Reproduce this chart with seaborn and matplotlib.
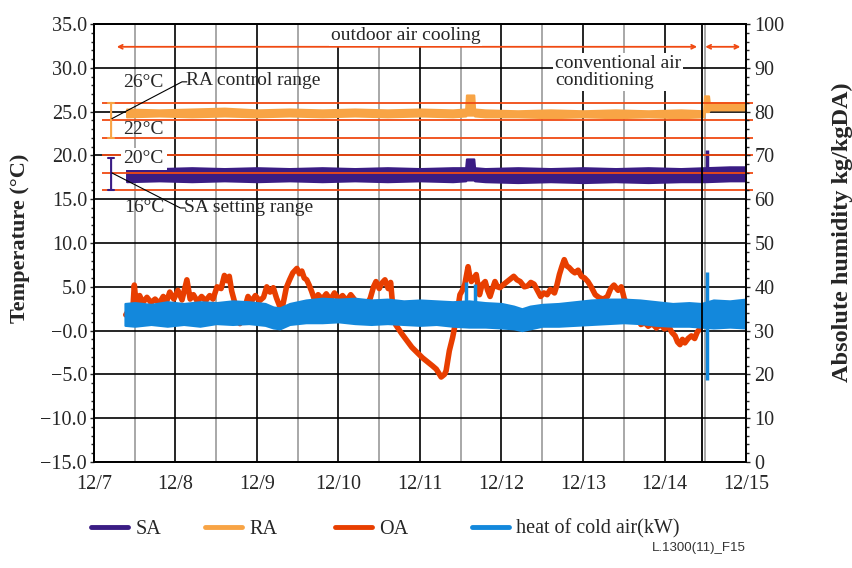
import matplotlib
matplotlib.use("Agg")
import matplotlib.pyplot as plt
import seaborn as sns
import pandas as pd
from matplotlib.lines import Line2D
from matplotlib.ticker import MultipleLocator

# ---------------- data (days since 12/7 00:00) ----------------
X_TICK_LABELS = ["12/7", "12/8", "12/9", "12/10", "12/11", "12/12", "12/13", "12/14", "12/15"]
Y_LEFT_TICKS = [-15, -10, -5, 0, 5, 10, 15, 20, 25, 30, 35]
Y_LEFT_LABELS = ["\u221215.0", "\u221210.0", "\u22125.0", "\u22120.0", "5.0", "10.0", "15.0",
                 "20.0", "25.0", "30.0", "35.0"]
Y_RIGHT_TICKS = [0, 10, 20, 30, 40, 50, 60, 70, 80, 90, 100]

SA_T = [0.40, 0.80, 1.20, 1.60, 2.00, 2.40, 2.80, 3.20, 3.60, 4.00,
        4.40, 4.56, 4.57, 4.66, 4.67, 4.80, 5.20, 5.60, 6.00, 6.40,
        6.80, 7.20, 7.50, 7.80, 8.00]
SA_LO = [17.0, 17.1, 17.0, 17.1, 17.0, 17.1, 17.0, 17.1, 17.0, 17.1,
         17.0, 17.1, 17.2, 17.2, 17.1, 17.0, 16.9, 17.0, 16.9, 17.0,
         16.9, 17.0, 17.0, 17.1, 17.1]
SA_HI = [18.6, 18.5, 18.6, 18.5, 18.6, 18.5, 18.6, 18.5, 18.6, 18.5,
         18.6, 18.6, 19.6, 19.6, 18.6, 18.5, 18.6, 18.5, 18.6, 18.5,
         18.6, 18.5, 18.6, 18.7, 18.7]

RA_T = [0.40, 0.80, 1.20, 1.60, 2.00, 2.40, 2.80, 3.20, 3.60, 4.00,
        4.40, 4.56, 4.57, 4.66, 4.67, 4.80, 5.20, 5.60, 6.00, 6.40,
        6.80, 7.20, 7.48, 7.49, 7.54, 7.55, 7.80, 8.00]
RA_LO = [24.4, 24.5, 24.4, 24.5, 24.4, 24.5, 24.4, 24.5, 24.4, 24.5,
         24.4, 24.5, 24.6, 24.6, 24.5, 24.4, 24.4, 24.3, 24.4, 24.3,
         24.4, 24.3, 24.4, 25.0, 25.0, 25.2, 25.2, 25.2]
RA_HI = [25.3, 25.2, 25.3, 25.4, 25.2, 25.3, 25.2, 25.3, 25.2, 25.3,
         25.2, 25.3, 26.9, 26.9, 25.3, 25.2, 25.1, 25.2, 25.1, 25.2,
         25.1, 25.2, 25.1, 26.8, 26.8, 26.0, 26.0, 26.0]

OA_T = [0.39, 0.44, 0.47, 0.495, 0.52, 0.56, 0.60, 0.65, 0.70, 0.75,
        0.80, 0.85, 0.89, 0.93, 0.98, 1.03, 1.08, 1.14, 1.18, 1.22,
        1.27, 1.32, 1.37, 1.42, 1.46, 1.51, 1.56, 1.60, 1.63, 1.66,
        1.69, 1.73, 1.76, 1.79, 1.82, 1.85, 1.89, 1.93, 1.98, 2.03,
        2.08, 2.12, 2.16, 2.20, 2.24, 2.27, 2.30, 2.33, 2.36, 2.40,
        2.44, 2.49, 2.52, 2.55, 2.58, 2.61, 2.64, 2.67, 2.71, 2.75,
        2.80, 2.85, 2.90, 2.95, 3.00, 3.05, 3.10, 3.15, 3.20, 3.26,
        3.30, 3.35, 3.39, 3.43, 3.46, 3.50, 3.53, 3.57, 3.61, 3.64,
        3.66, 3.70, 3.78, 3.90, 4.03, 4.15, 4.20, 4.26, 4.30, 4.32,
        4.36, 4.40, 4.44, 4.49, 4.52, 4.55, 4.59, 4.61, 4.63, 4.66,
        4.69, 4.73, 4.76, 4.80, 4.83, 4.86, 4.89, 4.92, 4.95, 4.98,
        5.03, 5.07, 5.11, 5.15, 5.19, 5.23, 5.28, 5.32, 5.36, 5.40,
        5.44, 5.48, 5.52, 5.56, 5.60, 5.65, 5.68, 5.71, 5.74, 5.77,
        5.80, 5.83, 5.87, 5.90, 5.94, 5.98, 6.02, 6.06, 6.10, 6.15,
        6.20, 6.25, 6.30, 6.34, 6.38, 6.43, 6.47, 6.51, 6.55, 6.59,
        6.63, 6.67, 6.71, 6.76, 6.80, 6.85, 6.90, 6.95, 7.00, 7.05,
        7.09, 7.13, 7.16, 7.19, 7.22, 7.25, 7.29, 7.33, 7.37, 7.40,
        7.44, 7.47]
OA_V = [1.8, 2.5, 1.5, 5.2, 2.8, 4.0, 3.2, 3.8, 3.2, 3.6,
        3.1, 3.9, 3.3, 4.4, 3.6, 4.6, 3.5, 5.8, 3.6, 4.1,
        3.3, 3.9, 3.4, 4.0, 3.6, 5.0, 4.8, 6.3, 5.7, 6.2,
        4.5, 3.1, 1.8, 0.8, 1.5, 2.6, 3.9, 3.3, 4.0, 3.4,
        3.8, 5.0, 4.4, 4.9, 3.7, 3.0, 2.2, 3.5, 4.9, 5.8,
        6.6, 7.1, 6.5, 6.8, 6.0, 5.8, 5.2, 4.5, 3.4, 4.1,
        3.6, 4.2, 3.5, 4.3, 3.6, 4.0, 3.4, 4.1, 3.5, 3.1,
        2.6, 3.0, 3.7, 5.0, 5.6, 4.8, 5.4, 5.8, 4.8, 5.5,
        3.4, 0.7, -0.4, -1.9, -3.1, -4.0, -4.4, -5.3, -5.0, -4.6,
        -2.3, -0.8, 1.1, 4.1, 4.6, 5.3, 7.3, 6.2, 5.6, 6.0,
        6.4, 4.1, 5.2, 5.6, 4.6, 3.9, 4.8, 5.6, 5.0, 4.9,
        5.3, 5.6, 5.9, 6.2, 5.8, 5.6, 5.0, 5.1, 5.5, 5.3,
        4.6, 3.9, 4.3, 4.1, 4.7, 4.3, 5.2, 6.4, 7.3, 8.1,
        7.4, 7.2, 6.8, 6.6, 6.9, 6.2, 6.0, 5.6, 5.0, 4.1,
        3.75, 3.6, 3.9, 4.8, 5.2, 4.6, 5.0, 3.5, 3.2, 3.0,
        2.2, 1.5, 0.7, 0.9, 0.5, 0.8, 0.3, 0.7, 0.2, 0.5,
        -0.2, -0.6, -1.3, -1.6, -1.0, -1.4, -0.9, -0.6, -0.9, -0.2,
        0.3, 0.9]

HEAT_T = [0.38, 0.50, 0.70, 0.90, 1.10, 1.30, 1.50, 1.70, 1.90, 2.10,
          2.20, 2.28, 2.40, 2.60, 2.80, 3.00, 3.20, 3.40, 3.60, 3.80,
          4.00, 4.20, 4.40, 4.60, 4.80, 5.00, 5.15, 5.25, 5.35, 5.50,
          5.70, 5.90, 6.10, 6.30, 6.50, 6.70, 6.90, 7.10, 7.30, 7.45,
          7.60, 7.80, 8.00]
HEAT_LO = [0.6, 0.5, 0.7, 0.5, 0.7, 0.5, 0.8, 0.7, 0.8, 0.6,
           0.3, 0.2, 0.7, 0.9, 0.9, 1.0, 0.8, 0.7, 0.8, 0.7,
           0.6, 0.7, 0.5, 0.4, 0.4, 0.3, 0.2, 0.0, 0.2, 0.5,
           0.5, 0.6, 0.7, 0.8, 0.9, 0.8, 0.6, 0.5, 0.5, 0.4,
           0.3, 0.4, 0.3]
HEAT_HI = [3.1, 3.2, 3.0, 3.3, 3.1, 3.3, 3.2, 3.4, 3.3, 3.1,
           2.7, 2.6, 3.1, 3.5, 3.7, 3.6, 3.7, 3.5, 3.6, 3.4,
           3.5, 3.4, 3.3, 3.4, 3.2, 3.1, 2.8, 2.5, 2.8, 3.0,
           3.1, 3.3, 3.5, 3.6, 3.6, 3.5, 3.3, 3.1, 3.2, 3.1,
           3.5, 3.4, 3.6]
HEAT_SPIKE_T = [4.57, 4.68, 7.52]
HEAT_SPIKE_LO = [2.0, 2.0, -5.6]
HEAT_SPIKE_HI = [5.5, 5.3, 6.7]
SA_SPIKE_T = [7.52]
SA_SPIKE_LO = [18.0]
SA_SPIKE_HI = [20.6]

RANGE_LEVELS = [16, 18, 20, 22, 24, 26]
SWITCH_DAY = 7.46

SERIES_NAMES = ["SA", "RA", "OA", "heat of cold air(kW)"]
LEGEND_X_PX = [91, 205, 335, 472]
C_SA = "#3a1c84"
C_RA = "#f8a445"
C_OA = "#e83e00"
C_HEAT = "#1388dc"
C_RANGE = "#f04a12"
SERIES_COLORS = [C_SA, C_RA, C_OA, C_HEAT]

# ---------------- style ----------------
sns.set_theme(style="white")
plt.rcParams['font.family'] = ['Liberation Serif', 'DejaVu Serif']
plt.rcParams['axes.unicode_minus'] = True

fig = plt.figure(figsize=(8.52, 5.68), dpi=100)
ax = fig.add_axes([0.1103, 0.1866, 0.7653, 0.7711])
ax.set_xlim(0, 8)
ax.set_ylim(-15, 35)

# grid
ax.set_xticks(range(len(X_TICK_LABELS)))
ax.set_xticklabels(X_TICK_LABELS)
ax.xaxis.set_minor_locator(MultipleLocator(0.5))
ax.set_yticks(Y_LEFT_TICKS)
ax.set_yticklabels(Y_LEFT_LABELS)
ax.yaxis.set_minor_locator(MultipleLocator(1))
ax.grid(which='major', axis='both', color='black', lw=1.2, zorder=0)
ax.grid(which='minor', axis='x', color='#9a9a9a', lw=1.2, zorder=0)
ax.set_axisbelow(True)
ax.tick_params(axis='x', which='both', length=0, pad=9, labelsize=14.5)
ax.tick_params(axis='y', which='major', length=3, width=1, direction='out', labelsize=14.5, pad=2)
ax.tick_params(axis='y', which='minor', length=2.5, width=1, direction='out')
for s in ax.spines.values():
    s.set_color('black')
    s.set_linewidth(1.3)

# ---------------- series ----------------
df_oa = pd.DataFrame({"day": OA_T, "value": OA_V})
sns.lineplot(data=df_oa, x="day", y="value", ax=ax, color=C_OA, lw=4.0, zorder=2,
             estimator=None, sort=False)
ax.fill_between(HEAT_T, HEAT_LO, HEAT_HI, color=C_HEAT, lw=1.5, edgecolor=C_HEAT, zorder=3)
ax.vlines(HEAT_SPIKE_T, HEAT_SPIKE_LO, HEAT_SPIKE_HI, color=C_HEAT, lw=2.5, zorder=4)

ax.fill_between(RA_T, RA_LO, RA_HI, color=C_RA, lw=1.5, edgecolor=C_RA, zorder=3)
ax.fill_between(SA_T, SA_LO, SA_HI, color=C_SA, lw=1.5, edgecolor=C_SA, zorder=3)
ax.vlines(SA_SPIKE_T, SA_SPIKE_LO, SA_SPIKE_HI, color=C_SA, lw=2.5, zorder=4)

# range lines
ax.hlines(RANGE_LEVELS, 0.1, 8.09, color=C_RANGE, lw=1.3, zorder=5, clip_on=False)
ax.axvline(SWITCH_DAY, color='black', lw=1.3, zorder=6)

# top arrows
arrow_kw = dict(arrowstyle='<->', color=C_RANGE, lw=1.3, shrinkA=0, shrinkB=0, mutation_scale=7)
ax.annotate('', xy=(0.28, 32.4), xytext=(7.40, 32.4), arrowprops=arrow_kw, zorder=5)
ax.annotate('', xy=(7.50, 32.4), xytext=(7.93, 32.4), arrowprops=arrow_kw, zorder=5,
            annotation_clip=False)

white = dict(boxstyle='square,pad=0.1', fc='white', ec='none')
ax.text(3.82, 33.7, "outdoor air cooling", ha='center', va='center', fontsize=14,
        bbox=white, zorder=7)
ax.text(5.66, 31.5, "conventional air\nconditioning", ha='left', va='top', fontsize=14,
        linespacing=1.05, bbox=white, zorder=7)

# range brackets
ax.annotate('', xy=(0.21, 22), xytext=(0.21, 26),
            arrowprops=dict(arrowstyle='|-|,widthA=0.2,widthB=0.2', color=C_RA, lw=1.5,
                            shrinkA=0, shrinkB=0), zorder=6)
ax.annotate('', xy=(0.21, 16.1), xytext=(0.21, 19.7),
            arrowprops=dict(arrowstyle='|-|,widthA=0.2,widthB=0.2', color=C_SA, lw=1.5,
                            shrinkA=0, shrinkB=0), zorder=6)

# leader lines
ax.plot([0.22, 1.08, 1.14], [24.2, 28.4, 28.4], color='black', lw=0.8, zorder=7)
ax.plot([0.22, 1.06, 1.12], [18.0, 14.0, 14.0], color='black', lw=0.8, zorder=7)

ax.text(0.60, 28.3, "26°C", ha='center', va='center', fontsize=14, zorder=8)
ax.text(1.13, 28.6, "RA control range", ha='left', va='center', fontsize=14, zorder=8)
ax.text(0.61, 23.0, "22°C", ha='center', va='center', fontsize=14, zorder=8)
ax.text(0.61, 19.6, "20°C", ha='center', va='center', fontsize=14, zorder=8,
        bbox=dict(boxstyle='square,pad=0.15', fc='white', ec='none'))
ax.text(0.62, 14.0, "16°C", ha='center', va='center', fontsize=14, zorder=8)
ax.text(1.10, 14.0, "SA setting range", ha='left', va='center', fontsize=14, zorder=8)

# right axis
ax2 = ax.twinx()
ax2.set_ylim(0, 100)
ax2.set_yticks(Y_RIGHT_TICKS)
ax2.set_yticklabels([str(v) for v in Y_RIGHT_TICKS])
ax2.yaxis.set_minor_locator(MultipleLocator(2))
ax2.tick_params(axis='y', which='major', length=3, width=1, direction='out', labelsize=14.5, pad=3)
ax2.tick_params(axis='y', which='minor', length=2.5, width=1, direction='out')
ax2.grid(False)
for s in ax2.spines.values():
    s.set_color('black')
    s.set_linewidth(1.3)

ax.set_xlabel("")
ax.set_ylabel("")
fig.text(20 / 852, 1 - 238 / 568, "Temperature (°C)", rotation=90, ha='center', va='center',
         fontsize=16, fontweight='bold')
fig.text(842 / 852, 1 - 232 / 568, "Absolute humidity kg/kgDA)", rotation=90, ha='center',
         va='center', fontsize=17.5, fontweight='bold')

# legend: one entry per position
for name, col, xpx in zip(SERIES_NAMES, SERIES_COLORS, LEGEND_X_PX):
    fig.legend([Line2D([], [], color=col, lw=3.5)], [name], loc='center left',
               bbox_to_anchor=(xpx / 852, 1 - 529 / 568), frameon=False, fontsize=14.5,
               handlelength=1.85, handletextpad=0.35, borderpad=0, borderaxespad=0)

fig.text(746 / 852, 1 - 548 / 568, "L.1300(11)_F15", ha='right', va='center', fontsize=9.5,
         family=['Liberation Sans', 'DejaVu Sans'], color='#333333')

fig.savefig("out.png", dpi=100)
